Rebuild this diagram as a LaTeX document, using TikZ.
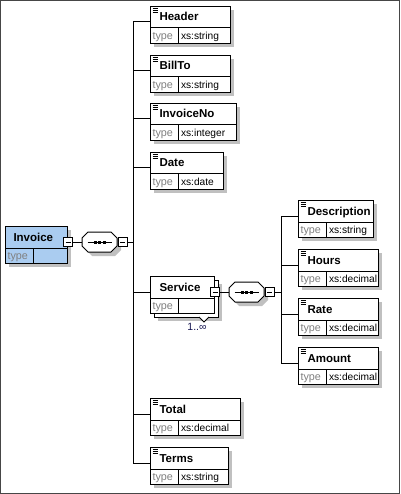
\documentclass[tikz,border=0pt]{standalone}
\usepackage{fontspec}
\setmainfont{Liberation Sans}
\usetikzlibrary{positioning}
\definecolor{elemblue}{RGB}{170,204,240}
\definecolor{shadegray}{RGB}{192,192,192}
\definecolor{typegray}{RGB}{128,128,128}
\definecolor{occblue}{RGB}{20,20,80}
\definecolor{framegray}{RGB}{70,70,70}

\begin{document}
\begin{tikzpicture}[
  x=1pt, y=-1pt, line width=1pt,
  box/.style={draw, fill=white, anchor=north west, minimum height=37pt, inner sep=0pt},
  drop/.style={fill=shadegray},
  ttl/.style={anchor=west, inner sep=0pt, text height=8pt, text depth=0pt,
    font=\fontsize{11.5}{13}\selectfont\bfseries},
  tname/.style={anchor=west, inner sep=0pt, text height=8pt, text depth=2pt,
    text=typegray, font=\fontsize{10.8}{13}\selectfont},
  tval/.style={anchor=west, inner sep=0pt, text height=8pt, text depth=2pt,
    font=\fontsize{10.2}{12}\selectfont},
  occ/.style={inner sep=0pt, text=occblue, font=\fontsize{10.5}{12}\selectfont},
  wire/.style={draw, line width=1pt, line cap=rect},
  minus/.style={draw, fill=white, minimum size=9pt, inner sep=0pt,
    path picture={\draw ([xshift=-2.5pt]path picture bounding box.center)
      -- ([xshift=2.5pt]path picture bounding box.center);}},
  seq/.style={minimum width=35pt, minimum height=20pt, inner sep=0pt},
]
\useasboundingbox (0,0) rectangle (400,494);
\coordinate (busL) at (133,0);
\coordinate (busR) at (281,0);

% simple elements
\foreach \nm/\x/\y/\w/\lbl/\typ in {
  hdr/150/6/80/Header/xs:string,
  bill/150/55/80/BillTo/xs:string,
  ino/150/103/86/InvoiceNo/xs:integer,
  date/150/152/73/Date/xs:date,
  total/150/398/90/Total/xs:decimal,
  terms/150/447/78/Terms/xs:string,
  desc/298/200/75/Description/xs:string,
  hrs/298/249/80/Hours/xs:decimal,
  rate/298/298/80/Rate/xs:decimal,
  amt/298/347/80/Amount/xs:decimal}{
  \fill[drop] (\x+4,\y+4) rectangle ++(\w,37);
  \node[box, minimum width=\w pt] (\nm) at (\x,\y) {};
  \draw ([yshift=-22pt]\nm.north west) -- ([yshift=-22pt]\nm.north east);
  \draw ([shift={(28pt,-22pt)}]\nm.north west) -- ([xshift=28pt]\nm.south west);
  \foreach \k in {2,4,6}
    \draw[line width=0.8pt] ([shift={(2.5pt,-\k pt)}]\nm.north west) -- ++(5pt,0);
  \node[ttl] (\nm-l) at ([shift={(9pt,-11pt)}]\nm.north west) {\lbl};
  \node[tname] (\nm-t) at ([shift={(2pt,7.5pt)}]\nm.south west) {type};
  \node[tval] (\nm-v) at ([shift={(30.5pt,7.5pt)}]\nm.south west) {\typ};
  \coordinate (\nm-in) at ([yshift=-16pt]\nm.north west);
}

% root element
\fill[drop] (9,230) rectangle ++(62,37);
\node[box, fill=elemblue, minimum width=62pt] (inv) at (5,226) {};
\draw ([yshift=-22pt]inv.north west) -- ([yshift=-22pt]inv.north east);
\draw ([shift={(28pt,-22pt)}]inv.north west) -- ([xshift=28pt]inv.south west);
\node[ttl] (inv-l) at ([shift={(8pt,-11pt)}]inv.north west) {Invoice};
\node[tname] (inv-t) at ([shift={(2pt,7.5pt)}]inv.south west) {type};
\node[minus] (inv-m) at ([yshift=-16pt]inv.north east) {};

% repeated element
\fill[drop] (158,284) rectangle ++(64,37);
\draw[fill=white] (154,280) rectangle ++(64,37);
\draw[fill=white, line join=miter] (199,317) -- (204,322) -- (209,317);
\node[box, minimum width=64pt] (svc) at (150,276) {};
\draw ([yshift=-22pt]svc.north west) -- ([yshift=-22pt]svc.north east);
\draw ([shift={(28pt,-22pt)}]svc.north west) -- ([xshift=28pt]svc.south west);
\node[ttl] (svc-l) at ([shift={(9pt,-11pt)}]svc.north west) {Service};
\node[tname] (svc-t) at ([shift={(2pt,7.5pt)}]svc.south west) {type};
\node[minus] (svc-m) at ([yshift=-16pt]svc.north east) {};
\coordinate (svc-in) at ([yshift=-16pt]svc.north west);
\node[occ] (svc-occ) at (197,327) {1..∞};

% sequence compositors
\foreach \nm/\cx/\cy in {seqA/99.5/242, seqB/246.5/292}{
  \fill[drop, shift={(\cx+4,\cy+4)}] (-11.5,-10) -- (11.5,-10) -- (17.5,-4) -- (17.5,4)
    -- (11.5,10) -- (-11.5,10) -- (-17.5,4) -- (-17.5,-4) -- cycle;
  \draw[fill=white, shift={(\cx,\cy)}] (-11.5,-10) -- (11.5,-10) -- (17.5,-4) -- (17.5,4)
    -- (11.5,10) -- (-11.5,10) -- (-17.5,4) -- (-17.5,-4) -- cycle;
  \node[seq] (\nm) at (\cx,\cy) {};
  \draw (\cx-12,\cy) -- (\cx+12,\cy);
  \foreach \d in {-4.5,0,4.5}
    \fill (\cx+\d-1.5,\cy-1.5) rectangle ++(3,3);
  \node[minus, anchor=west] (\nm-m) at (\nm.east) {};
}

% connectors
\draw[wire] (inv-m) -- (seqA);
\draw[wire] (seqA-m) -- (seqA-m -| busL);
\draw[wire] (svc-m) -- (seqB);
\draw[wire] (seqB-m) -- (seqB-m -| busR);
\foreach \nm in {hdr,bill,ino,date,svc,total,terms}
  \draw[wire] (\nm-in) -- (\nm-in -| busL);
\draw[wire] (hdr-in -| busL) -- (terms-in -| busL);
\foreach \nm in {desc,hrs,rate,amt}
  \draw[wire] (\nm-in) -- (\nm-in -| busR);
\draw[wire] (desc-in -| busR) -- (amt-in -| busR);

\draw[framegray] (0.5,0.5) rectangle (399.5,493.5);
\end{tikzpicture}
\end{document}
